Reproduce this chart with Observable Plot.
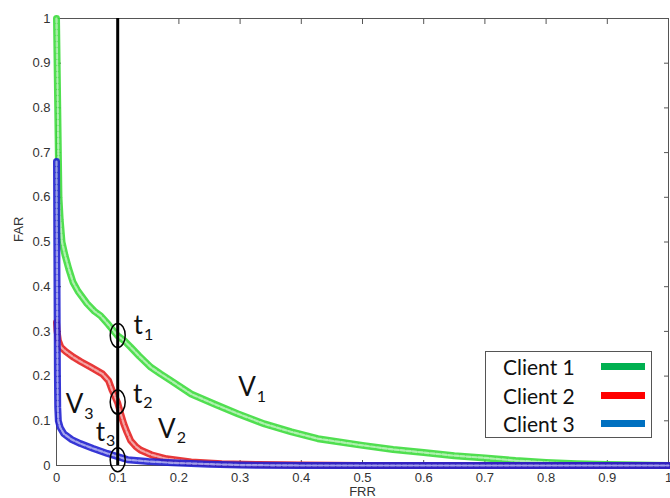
<!DOCTYPE html>
<html>
<head>
<meta charset="utf-8">
<script src="https://cdn.jsdelivr.net/npm/d3@7"></script>
<script src="https://cdn.jsdelivr.net/npm/@observablehq/plot@0.6"></script>
<style>
  html, body { margin: 0; padding: 0; background: #fff; }
  #wrap { position: relative; width: 670px; height: 498px; overflow: hidden; }
  .legend { position: absolute; left: 485px; top: 351px; width: 167px; height: 87px;
    border: 1.5px solid #555; background: #fff; box-sizing: border-box;
    font-family: Lato, "Open Sans", sans-serif; font-size: 21px; color: #111; }
  .row { position: absolute; left: 17px; height: 28px; line-height: 28px; }
  .sw { position: absolute; left: 115px; width: 44px; height: 7px; }
</style>
</head>
<body>
<div id="wrap"></div>
<script>
// ---- data ----
const clients = ["Client 1", "Client 2", "Client 3"];
const curveColors = ["#3ddc3d", "#e42222", "#2020d0"];
const legendColors = ["#00b050", "#ff0000", "#0070c0"];

const client1FRR = [0, 0.001, 0.002, 0.003, 0.004, 0.006, 0.009, 0.014, 0.02, 0.027, 0.035, 0.05, 0.062, 0.072, 0.085, 0.1, 0.11, 0.121, 0.135, 0.154, 0.17, 0.187, 0.2, 0.22, 0.257, 0.296, 0.34, 0.384, 0.427, 0.5, 0.55, 0.6, 0.65, 0.7, 0.75, 0.8, 0.85, 0.9, 0.95, 1.0];
const client1FAR = [1, 0.9, 0.8, 0.7, 0.6, 0.55, 0.5, 0.47, 0.44, 0.41, 0.39, 0.362, 0.345, 0.335, 0.315, 0.29, 0.28, 0.265, 0.245, 0.22, 0.205, 0.19, 0.178, 0.16, 0.138, 0.116, 0.093, 0.075, 0.06, 0.045, 0.036, 0.029, 0.022, 0.017, 0.011, 0.007, 0.004, 0.002, 0.001, 0];

const client2FRR = [0, 0.001, 0.003, 0.007, 0.015, 0.028, 0.04, 0.056, 0.075, 0.085, 0.091, 0.1, 0.105, 0.11, 0.115, 0.121, 0.13, 0.138, 0.155, 0.18, 0.22, 0.27, 0.33, 0.4, 0.5, 0.6, 0.7, 0.8, 0.9, 1];
const client2FAR = [0.32, 0.3, 0.28, 0.265, 0.255, 0.242, 0.232, 0.22, 0.205, 0.19, 0.168, 0.14, 0.115, 0.093, 0.075, 0.056, 0.042, 0.034, 0.024, 0.015, 0.008, 0.004, 0.002, 0.001, 0, 0, 0, 0, 0, 0];

const client3FRR = [0, 0.0005, 0.001, 0.0015, 0.002, 0.003, 0.006, 0.012, 0.025, 0.039, 0.06, 0.083, 0.1, 0.116, 0.15, 0.19, 0.25, 0.3, 0.4, 0.5, 0.6, 0.7, 0.8, 0.9, 1];
const client3FAR = [0.68, 0.5, 0.35, 0.2, 0.13, 0.1, 0.085, 0.071, 0.058, 0.049, 0.038, 0.027, 0.02, 0.013, 0.009, 0.006, 0.003, 0.001, 0, 0, 0, 0, 0, 0, 0];

const threshold = 0.1;
const crossingFAR = [0.291, 0.142, 0.013];

const annLetters = ["t", "t", "t", "V", "V", "V"];
const annSubs = ["1", "2", "3", "1", "2", "3"];
const annX = [0.126, 0.125, 0.064, 0.297, 0.166, 0.015];
const annY = [0.313, 0.159, 0.074, 0.174, 0.081, 0.136];

const xTicks = [0, 0.1, 0.2, 0.3, 0.4, 0.5, 0.6, 0.7, 0.8, 0.9, 1];
const yTicks = [0, 0.1, 0.2, 0.3, 0.4, 0.5, 0.6, 0.7, 0.8, 0.9, 1];

// ---- build tables ----
const series = [
  client1FRR.map((x, i) => ({x, y: client1FAR[i]})),
  client2FRR.map((x, i) => ({x, y: client2FAR[i]})),
  client3FRR.map((x, i) => ({x, y: client3FAR[i]}))
];
const crossings = crossingFAR.map(y => ({x: threshold, y}));
const annotations = annLetters.map((l, i) => ({l, s: annSubs[i], x: annX[i], y: annY[i]}));

const ellipse = {
  draw(ctx) {
    const rx = 7.5, ry = 12, k = 0.5523;
    ctx.moveTo(rx, 0);
    ctx.bezierCurveTo(rx, ry * k, rx * k, ry, 0, ry);
    ctx.bezierCurveTo(-rx * k, ry, -rx, ry * k, -rx, 0);
    ctx.bezierCurveTo(-rx, -ry * k, -rx * k, -ry, 0, -ry);
    ctx.bezierCurveTo(rx * k, -ry, rx, -ry * k, rx, 0);
    ctx.closePath();
  }
};

const curveMarks = [];
series.forEach((d, i) => {
  curveMarks.push(Plot.line(d, {x: "x", y: "y", stroke: curveColors[i], strokeWidth: 7, strokeOpacity: 0.9}));
  curveMarks.push(Plot.line(d, {x: "x", y: "y", stroke: "white", strokeWidth: 2.2, strokeOpacity: 0.55, strokeDasharray: "4 2"}));
});

const chart = Plot.plot({
  width: 670, height: 498,
  marginLeft: 56, marginRight: 2, marginTop: 18, marginBottom: 33,
  x: {domain: [0, 1]},
  y: {domain: [0, 1]},
  style: {fontFamily: "'Liberation Sans', 'DejaVu Sans', sans-serif", fontSize: "13px", color: "#333", background: "white", overflow: "visible"},
  marks: [
    Plot.frame({stroke: "#555"}),
    Plot.axisX({ticks: xTicks, anchor: "bottom", tickSize: -5, tickPadding: 12, tickFormat: d => String(d), label: null, stroke: "#555"}),
    Plot.axisX({ticks: xTicks, anchor: "top", tickSize: -5, tickFormat: () => "", label: null, stroke: "#555"}),
    Plot.axisY({ticks: yTicks, anchor: "left", tickSize: -5, tickPadding: 11, tickFormat: d => String(d), label: null, stroke: "#555"}),
    Plot.axisY({ticks: yTicks, anchor: "right", tickSize: -5, tickFormat: () => "", label: null, stroke: "#555"}),
    Plot.text(["FRR"], {frameAnchor: "bottom", dy: 30, fill: "#333"}),
    Plot.text(["FAR"], {frameAnchor: "left", dx: -38, rotate: -90, fill: "#333"}),
    ...curveMarks,
    Plot.ruleX([threshold], {y1: 0, y2: 1, stroke: "black", strokeWidth: 3}),
    Plot.dot(crossings, {x: "x", y: "y", symbol: ellipse, r: 5, fill: "none", stroke: "black", strokeWidth: 1.5}),
    Plot.text(annotations, {x: "x", y: "y", text: "l", textAnchor: "start", lineAnchor: "middle", fontSize: 26, fill: "#111", fontFamily: "Lato, 'Open Sans', sans-serif"})
  ]
});

const wrap = document.getElementById("wrap");
wrap.appendChild(chart);

// Add subscripts as tspans inside each annotation text
const groups = chart.querySelectorAll("g[aria-label='text']");
const annGroup = groups[groups.length - 1];
annGroup.querySelectorAll("text").forEach((t, i) => {
  const ts = document.createElementNS("http://www.w3.org/2000/svg", "tspan");
  ts.setAttribute("font-size", 16);
  ts.setAttribute("dy", "0.35em");
  ts.setAttribute("dx", "1");
  ts.textContent = annotations[i].s;
  t.appendChild(ts);
});

const legend = document.createElement("div");
legend.className = "legend";
clients.forEach((c, i) => {
  const row = document.createElement("div");
  row.className = "row";
  row.style.top = (1 + i * 28.5) + "px";
  row.textContent = c;
  legend.appendChild(row);
  const sw = document.createElement("div");
  sw.className = "sw";
  sw.style.top = (11 + i * 28.5) + "px";
  sw.style.background = legendColors[i];
  legend.appendChild(sw);
});
wrap.appendChild(legend);
</script>
</body>
</html>
